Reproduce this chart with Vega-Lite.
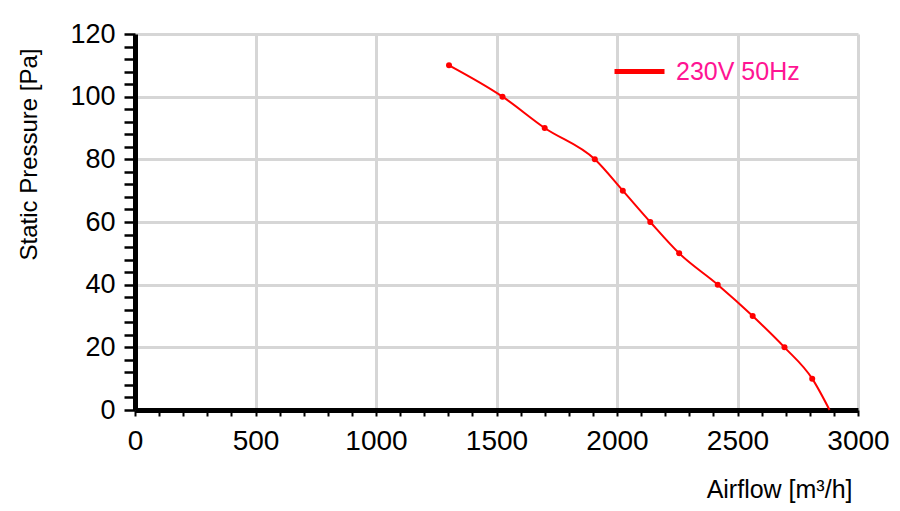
{
  "$schema": "https://vega.github.io/schema/vega-lite/v6.json",
  "autosize": {"type": "none"},
  "width": 723,
  "height": 376,
  "padding": {"left": 135, "top": 34, "right": 42, "bottom": 101},
  "background": "white",
  "config": {
    "view": {"stroke": null},
    "font": "Liberation Sans"
  },
  "data": {
    "values": [
      {"airflow": 1303, "pressure": 110, "series": "230V 50Hz"},
      {"airflow": 1525, "pressure": 100, "series": "230V 50Hz"},
      {"airflow": 1700, "pressure": 90, "series": "230V 50Hz"},
      {"airflow": 1908, "pressure": 80, "series": "230V 50Hz"},
      {"airflow": 2024, "pressure": 70, "series": "230V 50Hz"},
      {"airflow": 2138, "pressure": 60, "series": "230V 50Hz"},
      {"airflow": 2258, "pressure": 50, "series": "230V 50Hz"},
      {"airflow": 2418, "pressure": 40, "series": "230V 50Hz"},
      {"airflow": 2563, "pressure": 30, "series": "230V 50Hz"},
      {"airflow": 2695, "pressure": 20, "series": "230V 50Hz"},
      {"airflow": 2810, "pressure": 10, "series": "230V 50Hz"},
      {"airflow": 2882, "pressure": 0, "series": "230V 50Hz"}
    ]
  },
  "encoding": {
    "x": {
      "field": "airflow", "type": "quantitative",
      "scale": {"domain": [0, 3000], "nice": false, "zero": false},
      "axis": {
        "values": [0,100,200,300,400,500,600,700,800,900,1000,1100,1200,1300,1400,1500,1600,1700,1800,1900,2000,2100,2200,2300,2400,2500,2600,2700,2800,2900,3000],
        "format": "d",
        "labelExpr": "datum.value % 500 === 0 ? datum.label : ''",
        "labelOverlap": false,
        "labelBound": false,
        "labelFlush": false,
        "labelFontSize": 28,
        "labelColor": "#000000",
        "labelPadding": 11,
        "domainColor": "#000000",
        "domainWidth": 5,
        "tickColor": "#000000",
        "tickWidth": 2,
        "tickSize": 6,
        "grid": true,
        "gridColor": "#d6d6d6",
        "gridWidth": 3,
        "gridOpacity": {"condition": {"test": "datum.value % 500 === 0", "value": 1}, "value": 0},
        "title": "Airflow [m³/h]",
        "titleFont": "Liberation Sans",
        "titleFontWeight": "normal",
        "titleFontSize": 25,
        "titleColor": "#000000",
        "titleAnchor": null,
        "titleAlign": "right",
        "titleBaseline": "alphabetic",
        "titleX": 717,
        "titleY": 87
      }
    },
    "y": {
      "field": "pressure", "type": "quantitative",
      "scale": {"domain": [0, 120], "nice": false, "zero": false},
      "axis": {
        "values": [0,4,8,12,16,20,24,28,32,36,40,44,48,52,56,60,64,68,72,76,80,84,88,92,96,100,104,108,112,116,120],
        "labelExpr": "datum.value % 20 === 0 ? datum.label : ''",
        "labelOverlap": false,
        "labelBound": false,
        "labelFlush": false,
        "labelFontSize": 27,
        "labelColor": "#000000",
        "labelPadding": 9,
        "domainColor": "#000000",
        "domainWidth": 5,
        "tickColor": "#000000",
        "tickWidth": 2.5,
        "tickSize": 11,
        "grid": true,
        "gridColor": "#d6d6d6",
        "gridWidth": 3,
        "gridOpacity": {"condition": {"test": "datum.value % 20 === 0", "value": 1}, "value": 0},
        "title": "Static Pressure [Pa]",
        "titleFont": "Liberation Sans",
        "titleFontWeight": "normal",
        "titleFontSize": 24,
        "titleColor": "#000000",
        "titleAnchor": null,
        "titleAngle": -90,
        "titleAlign": "center",
        "titleBaseline": "middle",
        "titleX": -106,
        "titleY": 120
      }
    }
  },
  "layer": [
    {
      "mark": {"type": "line", "interpolate": "monotone", "strokeWidth": 2},
      "encoding": {
        "color": {
          "field": "series", "type": "nominal",
          "scale": {"domain": ["230V 50Hz"], "range": ["#ff0000"]},
          "legend": {
            "orient": "none",
            "legendX": 477,
            "legendY": 10,
            "title": null,
            "symbolType": "stroke",
            "symbolStrokeWidth": 5,
            "symbolSize": 2500,
            "labelFontSize": 25,
            "labelFont": "Liberation Sans",
            "labelColor": "#ff1493",
            "labelOffset": 9
          }
        }
      }
    },
    {
      "transform": [{"filter": "datum.pressure > 0"}],
      "mark": {"type": "point", "filled": true, "color": "#ff0000", "size": 36, "opacity": 1}
    }
  ]
}
